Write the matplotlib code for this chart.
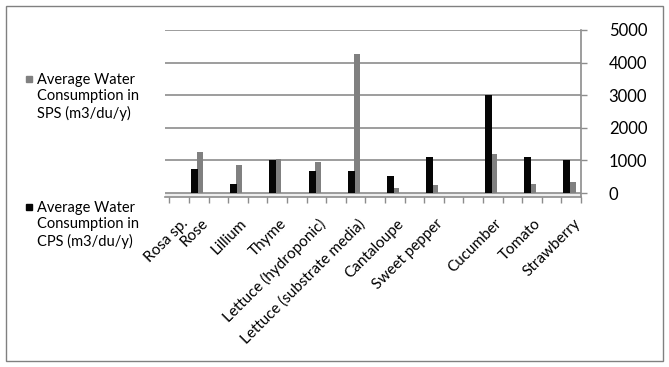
import numpy as np
import matplotlib
matplotlib.use("Agg")
import matplotlib.pyplot as plt
from matplotlib.patches import Rectangle

plt.rcParams['font.family'] = ['Lato', 'DejaVu Sans']

# 21 category slots, blank ones carry no data
crops = ["Rosa sp.", "Rose", "", "Lillium", "", "Thyme", "",
         "Lettuce (hydroponic)", "", "Lettuce (substrate media)", "",
         "Cantaloupe", "", "Sweet pepper", "", "", "Cucumber", "",
         "Tomato", "", "Strawberry"]
cps = [np.nan, 750, np.nan, 270, np.nan, 1000, np.nan, 690, np.nan, 690, np.nan,
       520, np.nan, 1100, np.nan, np.nan, 3020, np.nan, 1100, np.nan, 1000]
sps = [np.nan, 1250, np.nan, 850, np.nan, 1030, np.nan, 940, np.nan, 4250, np.nan,
       170, np.nan, 260, np.nan, np.nan, 1200, np.nan, 280, np.nan, 330]
yticks = [0, 1000, 2000, 3000, 4000, 5000]

sps_label = "Average Water\nConsumption in\nSPS (m3/du/y)"
cps_label = "Average Water\nConsumption in\nCPS (m3/du/y)"
sps_color = "#808080"
cps_color = "#050505"
line_gray = "#8c8c8c"

W, H = 669, 367
fig = plt.figure(figsize=(W / 100, H / 100), dpi=100)
fig.patches.append(Rectangle((6 / W, 6 / H), 657 / W, 355 / H, transform=fig.transFigure,
                             fill=False, edgecolor="#808080", lw=1.0))

ax = fig.add_axes([165 / W, 170 / H, 416 / W, 167 / H])
x = np.arange(len(crops))

# floor strip
ax.axhspan(-120, 0, color="#eeeeee", zorder=1)
for y in yticks:
    ax.axhline(y, color=line_gray, lw=1.2, zorder=1)

ax.bar(x + 0.07, sps, width=0.3, color=sps_color, zorder=2)
ax.bar(x - 0.22, cps, width=0.36, color=cps_color, zorder=3)

ax.set_xlim(-0.72, 20.5)
ax.set_ylim(-120, 5000)

ax.set_xticks(np.arange(-0.5, 20.6, 1.0))
ax.set_xticklabels([])
ax.tick_params(axis="x", which="major", direction="out", length=4, color=line_gray, width=1)
ax.set_xticks(x + 0.1, minor=True)
ax.set_xticklabels(crops, minor=True, rotation=45, ha="right", rotation_mode="anchor",
                   fontsize=11)
ax.tick_params(axis="x", which="minor", length=0, pad=14)

ax.yaxis.tick_right()
ax.set_yticks(yticks)
ax.set_yticklabels([str(v) for v in yticks], fontsize=12)
ax.tick_params(axis="y", direction="out", length=4, color=line_gray, width=1, pad=16)

for side in ["top", "left"]:
    ax.spines[side].set_visible(False)
ax.spines["right"].set_color(line_gray)
ax.spines["right"].set_linewidth(1.2)
ax.spines["bottom"].set_color(line_gray)
ax.spines["bottom"].set_linewidth(1.2)

# legend on the left
for label, color, ytop in [(sps_label, sps_color, 73), (cps_label, cps_color, 201)]:
    fig.patches.append(Rectangle((26 / W, 1 - (ytop + 9) / H), 6 / W, 6 / H,
                                 transform=fig.transFigure, color=color))
    fig.text(37 / W, 1 - ytop / H, label, fontsize=10.5, va="top", ha="left",
             linespacing=1.2)

fig.savefig("out.png", dpi=100)
